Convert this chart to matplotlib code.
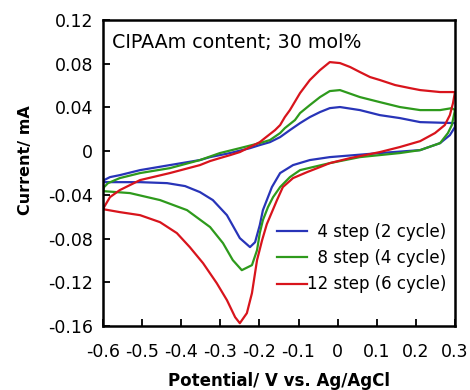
import numpy as np
import matplotlib
matplotlib.use("Agg")
import matplotlib.pyplot as plt

# values (closed CV loops)
pot_4step = [-0.600, -0.505, -0.436, -0.390, -0.352, -0.319, -0.283, -0.250, -0.224, -0.211,
             -0.199, -0.191, -0.181, -0.168, -0.147, -0.114, -0.071, -0.020, 0.108, 0.211,
             0.262, 0.287, 0.300, 0.300, 0.211, 0.159, 0.108, 0.057, 0.006, -0.020,
             -0.045, -0.071, -0.096, -0.122, -0.147, -0.173, -0.199, -0.224, -0.275, -0.326,
             -0.352, -0.429, -0.505, -0.557, -0.582, -0.597, -0.600]
cur_4step = [-0.0284, -0.0284, -0.0293, -0.0320, -0.0375, -0.0448, -0.0586, -0.0796, -0.0878, -0.0833,
             -0.0677, -0.0540, -0.0448, -0.0329, -0.0201, -0.0128, -0.0082, -0.0055, -0.0018, 0.0009,
             0.0073, 0.0146, 0.0220, 0.0256, 0.0265, 0.0302, 0.0329, 0.0375, 0.0403, 0.0393,
             0.0357, 0.0311, 0.0256, 0.0192, 0.0128, 0.0082, 0.0055, 0.0027, -0.0018, -0.0055,
             -0.0082, -0.0128, -0.0174, -0.0220, -0.0238, -0.0265, -0.0284]

pot_8step = [-0.600, -0.531, -0.454, -0.385, -0.326, -0.293, -0.268, -0.245, -0.219, -0.206,
             -0.199, -0.191, -0.178, -0.165, -0.147, -0.122, -0.096, -0.063, -0.020, 0.057,
             0.159, 0.211, 0.262, 0.282, 0.292, 0.300, 0.292, 0.262, 0.211, 0.159,
             0.108, 0.057, 0.006, -0.020, -0.045, -0.071, -0.096, -0.109, -0.135, -0.147,
             -0.173, -0.199, -0.250, -0.301, -0.352, -0.429, -0.505, -0.557, -0.587, -0.597, -0.600]
cur_8step = [-0.0366, -0.0384, -0.0448, -0.0540, -0.0695, -0.0842, -0.0997, -0.1089, -0.1043, -0.0906,
             -0.0750, -0.0631, -0.0512, -0.0421, -0.0329, -0.0238, -0.0174, -0.0146, -0.0110, -0.0055,
             -0.0018, 0.0009, 0.0073, 0.0165, 0.0238, 0.0375, 0.0393, 0.0375, 0.0375, 0.0403,
             0.0448, 0.0494, 0.0558, 0.0549, 0.0494, 0.0421, 0.0348, 0.0284, 0.0210, 0.0165,
             0.0101, 0.0073, 0.0027, -0.0018, -0.0082, -0.0156, -0.0201, -0.0247, -0.0293, -0.0329, -0.0366]

pot_12step = [-0.600, -0.557, -0.505, -0.454, -0.411, -0.378, -0.344, -0.309, -0.283, -0.262,
              -0.250, -0.232, -0.219, -0.206, -0.193, -0.181, -0.168, -0.155, -0.140, -0.114,
              -0.078, -0.045, -0.020, 0.032, 0.108, 0.159, 0.211, 0.249, 0.274, 0.287,
              0.295, 0.300, 0.262, 0.211, 0.185, 0.147, 0.108, 0.083, 0.057, 0.032,
              0.006, -0.020, -0.045, -0.071, -0.096, -0.122, -0.135, -0.147, -0.160, -0.186,
              -0.199, -0.224, -0.250, -0.275, -0.301, -0.326, -0.352, -0.429, -0.505, -0.557,
              -0.582, -0.597, -0.600]
cur_12step = [-0.0531, -0.0558, -0.0586, -0.0650, -0.0750, -0.0878, -0.1025, -0.1208, -0.1363, -0.1519,
              -0.1574, -0.1482, -0.1299, -0.0997, -0.0814, -0.0668, -0.0558, -0.0448, -0.0329, -0.0247,
              -0.0192, -0.0146, -0.0110, -0.0064, -0.0009, 0.0037, 0.0091, 0.0165, 0.0238, 0.0329,
              0.0439, 0.0540, 0.0540, 0.0558, 0.0576, 0.0604, 0.0650, 0.0677, 0.0723, 0.0769,
              0.0805, 0.0814, 0.0741, 0.0650, 0.0531, 0.0375, 0.0311, 0.0238, 0.0192, 0.0119,
              0.0082, 0.0037, -0.0009, -0.0037, -0.0064, -0.0091, -0.0128, -0.0201, -0.0265, -0.0357,
              -0.0421, -0.0512, -0.0531]

labels = ["  4 step (2 cycle)", "  8 step (4 cycle)", "12 step (6 cycle)"]
colors = ["#2834b8", "#2e9a1c", "#d8141c"]

xticks = [-0.6, -0.5, -0.4, -0.3, -0.2, -0.1, 0, 0.1, 0.2, 0.3]
xticklabels = ["-0.6", "-0.5", "-0.4", "-0.3", "-0.2", "-0.1", "0", "0.1", "0.2", "0.3"]
yticks = [-0.16, -0.12, -0.08, -0.04, 0, 0.04, 0.08, 0.12]
yticklabels = ["-0.16", "-0.12", "-0.08", "-0.04", "0", "0.04", "0.08", "0.12"]

fig = plt.figure(figsize=(4.7, 3.9), dpi=100)
ax = fig.add_axes([0.219, 0.164, 0.749, 0.785])

series = [(pot_4step, cur_4step), (pot_8step, cur_8step), (pot_12step, cur_12step)]
for (x, y), lab, c in zip(series, labels, colors):
    ax.plot(x, y, color=c, lw=1.6, label=lab)

ax.set_xlim(-0.6, 0.3)
ax.set_ylim(-0.16, 0.12)
ax.set_xticks(xticks)
ax.set_xticklabels(xticklabels)
ax.set_yticks(yticks)
ax.set_yticklabels(yticklabels)
ax.tick_params(axis="x", direction="in", length=5, width=1.3, labelsize=12.5, pad=12)
ax.tick_params(axis="y", direction="in", length=5, width=1.3, labelsize=12.5, pad=7)
for s in ax.spines.values():
    s.set_linewidth(1.8)

ax.set_xlabel("Potential/ V vs. Ag/AgCl", fontsize=12, fontweight="bold")
ax.set_ylabel("Current/ mA", fontsize=11.5, fontweight="bold")
ax.xaxis.set_label_coords(0.501, -0.150)
ax.yaxis.set_label_coords(-0.20, 0.542)

ax.text(0.026, 0.925, "CIPAAm content; 30 mol%", transform=ax.transAxes,
        fontsize=13.7, va="center", ha="left")

ax.legend(loc="center left", bbox_to_anchor=(0.494, 0.222), frameon=False,
          fontsize=12, handlelength=1.8, handletextpad=0.0, labelspacing=0.5,
          borderpad=0, borderaxespad=0)

fig.savefig("out.png", dpi=100)
